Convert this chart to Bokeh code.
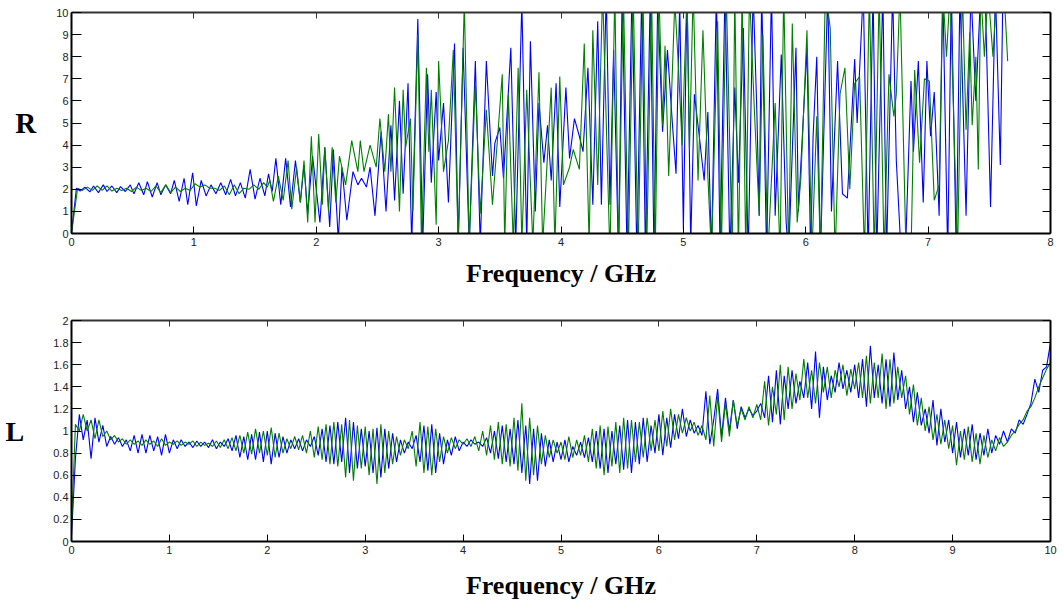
from bokeh.plotting import figure
from bokeh.models import Range1d, LinearAxis, FixedTicker, CustomJSTickFormatter
from bokeh.layouts import column
from bokeh.embed import file_html
from bokeh.resources import INLINE

# ---------------- data: R (top panel) ----------------
freq_r_blue = [
    0.00, 0.04, 0.07, 0.11, 0.15, 0.18, 0.22, 0.26, 0.29, 0.33,
    0.37, 0.40, 0.44, 0.48, 0.51, 0.55, 0.59, 0.62, 0.66, 0.70,
    0.73, 0.77, 0.81, 0.84, 0.88, 0.92, 0.95, 0.99, 1.02, 1.06,
    1.10, 1.14, 1.18, 1.22, 1.26, 1.30, 1.34, 1.38, 1.42, 1.46,
    1.50, 1.54, 1.58, 1.61, 1.64, 1.67, 1.71, 1.75, 1.79, 1.83,
    1.87, 1.90, 1.93, 1.97, 2.03, 2.07, 2.11, 2.14, 2.18, 2.21,
    2.25, 2.30, 2.34, 2.37, 2.41, 2.44, 2.48, 2.53, 2.57, 2.61,
    2.64, 2.68, 2.71, 2.75, 2.78, 2.83, 2.87, 2.91, 2.94, 2.98,
    3.00, 3.04, 3.08, 3.13, 3.16, 3.20, 3.25, 3.30, 3.34, 3.39,
    3.44, 3.46, 3.50, 3.53, 3.59, 3.63, 3.68, 3.72, 3.75, 3.79,
    3.82, 3.86, 3.89, 3.92, 3.96, 3.99, 4.04, 4.07, 4.11, 4.15,
    4.18, 4.22, 4.26, 4.30, 4.33, 4.37, 4.40, 4.43, 4.47, 4.50,
    4.54, 4.58, 4.62, 4.66, 4.69, 4.73, 4.76, 4.79, 4.83, 4.87,
    4.91, 4.94, 4.97, 5.00, 5.03, 5.06, 5.09, 5.13, 5.17, 5.20,
    5.23, 5.27, 5.30, 5.34, 5.38, 5.42, 5.45, 5.49, 5.53, 5.57,
    5.60, 5.62, 5.64, 5.68, 5.72, 5.75, 5.80, 5.84, 5.86, 5.92,
    5.94, 6.01, 6.04, 6.06, 6.09, 6.12, 6.18, 6.21, 6.26, 6.30,
    6.34, 6.40, 6.42, 6.47, 6.51, 6.55, 6.58, 6.63, 6.66, 6.71,
    6.74, 6.78, 6.82, 6.86, 6.88, 6.92, 6.96, 6.99, 7.02, 7.05,
    7.09, 7.12, 7.16, 7.19, 7.23, 7.26, 7.31, 7.35, 7.39, 7.43,
    7.47, 7.51, 7.55, 7.59, 7.61,
]
r_blue = [
    0.00, 2.05, 1.92, 2.10, 1.88, 2.15, 1.85, 2.20, 1.90, 2.15,
    1.85, 2.12, 1.90, 2.20, 1.80, 2.30, 1.75, 2.35, 1.65, 2.30,
    1.75, 2.20, 1.80, 2.40, 1.45, 2.50, 1.30, 2.75, 1.25, 2.40,
    1.70, 2.20, 1.80, 2.30, 1.75, 2.45, 1.70, 2.30, 1.60, 2.90,
    1.55, 2.50, 1.70, 2.70, 1.90, 3.40, 1.30, 3.40, 1.20, 3.30,
    1.40, 3.10, 0.90, 3.50, 0.50, 3.90, 0.30, 3.80, -0.30, 3.00,
    0.60, 2.80, 2.20, 2.50, 2.10, 3.00, 0.80, 4.60, 1.00, 4.90,
    1.50, 6.00, 1.80, 6.80, -0.50, 9.70, -0.50, 7.20, 2.30, 6.40,
    3.30, 5.90, 1.40, 8.60, -0.50, 8.40, -0.50, 7.80, -0.50, 7.80,
    2.60, 4.10, 4.80, 2.50, 8.40, -0.50, 10.5, -0.50, 8.70, 1.00,
    5.90, 3.20, 4.90, 2.40, 6.80, 1.20, 6.60, 3.40, 5.20, 4.40,
    3.70, 7.50, 1.30, 9.60, 1.30, 11.0, 1.30, 8.30, -1.0, 11.0,
    -1.0, 11.0, -1.0, 11.0, -1.0, 11.0, -1.0, 10.5, 4.60, 8.30,
    5.00, 2.70, 10.5, 0.20, 11.0, -0.50, 6.30, 4.40, 2.40, 5.50,
    -1.0, 11.0, -1.0, 11.0, -1.0, 6.60, 2.30, 9.30, -1.0, 11.0,
    5.60, 0.80, 11.0, -1.0, 11.0, 0.80, 8.10, 0.50, -1.0, 8.40,
    1.00, 8.40, -1.0, 4.40, 8.00, -1.0, 11.0, 1.00, 7.80, 1.80,
    1.60, 7.90, 5.00, 11.0, -1.0, 11.0, -1.0, 11.0, -1.0, 11.0,
    3.30, -1.0, 0.00, 6.90, 3.70, 7.80, 1.40, 7.80, 4.40, 6.40,
    0.80, 11.0, -1.0, 11.0, -1.0, 11.0, 0.80, 11.0, 6.00, 11.0,
    10.0, 1.20, 11.0, 3.10, 10.5,
]
freq_r_green = [
    0.00, 0.05, 0.09, 0.13, 0.17, 0.21, 0.25, 0.29, 0.33, 0.37,
    0.41, 0.45, 0.49, 0.53, 0.57, 0.61, 0.65, 0.69, 0.73, 0.77,
    0.81, 0.85, 0.89, 0.93, 0.97, 1.01, 1.05, 1.09, 1.13, 1.17,
    1.21, 1.25, 1.29, 1.33, 1.37, 1.41, 1.45, 1.49, 1.53, 1.57,
    1.60, 1.62, 1.65, 1.69, 1.73, 1.77, 1.80, 1.84, 1.87, 1.90,
    1.93, 1.96, 1.99, 2.02, 2.05, 2.07, 2.10, 2.13, 2.16, 2.19,
    2.24, 2.29, 2.34, 2.36, 2.39, 2.44, 2.49, 2.52, 2.56, 2.59,
    2.61, 2.64, 2.68, 2.71, 2.73, 2.77, 2.79, 2.83, 2.86, 2.90,
    2.92, 2.94, 2.98, 3.00, 3.04, 3.08, 3.12, 3.16, 3.21, 3.25,
    3.30, 3.34, 3.39, 3.44, 3.48, 3.52, 3.54, 3.57, 3.61, 3.65,
    3.68, 3.72, 3.77, 3.82, 3.85, 3.92, 3.95, 3.99, 4.02, 4.07,
    4.10, 4.15, 4.19, 4.23, 4.26, 4.30, 4.34, 4.40, 4.44, 4.47,
    4.51, 4.55, 4.59, 4.63, 4.67, 4.70, 4.74, 4.77, 4.80, 4.83,
    4.85, 4.88, 4.93, 4.96, 4.99, 5.03, 5.05, 5.08, 5.12, 5.16,
    5.20, 5.23, 5.28, 5.31, 5.35, 5.40, 5.42, 5.45, 5.48, 5.51,
    5.54, 5.58, 5.62, 5.65, 5.69, 5.75, 5.79, 5.82, 5.86, 5.89,
    5.93, 5.96, 6.01, 6.05, 6.09, 6.12, 6.16, 6.20, 6.24, 6.28,
    6.32, 6.36, 6.40, 6.44, 6.48, 6.52, 6.56, 6.60, 6.64, 6.68,
    6.72, 6.74, 6.77, 6.82, 6.86, 6.89, 6.93, 6.97, 7.01, 7.05,
    7.09, 7.12, 7.15, 7.18, 7.24, 7.28, 7.31, 7.34, 7.36, 7.39,
    7.41, 7.43, 7.46, 7.49, 7.53, 7.56, 7.62, 7.65,
]
r_green = [
    0.00, 2.05, 1.95, 2.10, 1.95, 2.15, 1.95, 2.15, 1.92, 2.05,
    1.95, 2.05, 1.90, 2.10, 1.95, 2.05, 1.90, 2.15, 1.85, 2.20,
    1.85, 2.10, 1.90, 2.05, 1.95, 2.25, 2.10, 2.20, 2.05, 2.05,
    1.95, 2.15, 1.75, 2.20, 1.80, 2.05, 2.00, 2.20, 2.00, 2.30,
    2.10, 2.40, 1.45, 2.60, 1.50, 3.30, 1.10, 3.00, 1.40, 3.30,
    0.50, 4.40, 0.50, 4.50, 1.30, 3.90, 1.00, 3.90, 1.40, 3.50,
    2.20, 4.20, 2.80, 4.20, 2.80, 4.00, 3.00, 5.20, 2.80, 5.40,
    2.80, 6.60, 1.00, 6.50, 3.90, 5.20, 1.00, 9.00, -0.50, 7.50,
    3.70, 6.50, 0.40, 7.80, 2.80, 4.20, 8.30, -0.50, 10.5, -0.50,
    6.80, 0.90, 5.60, 1.30, 4.20, 7.20, -0.50, 6.30, -0.50, 7.50,
    -0.50, 6.50, -0.50, 7.30, -0.50, 6.60, -0.50, 7.10, 2.20, 3.00,
    3.80, 2.90, 8.60, -0.50, 9.20, 2.20, 11.0, -1.0, 11.0, -1.0,
    11.0, -1.0, 11.0, -1.0, 11.0, -1.0, 11.0, -1.0, 11.0, 4.90,
    8.50, 2.60, 10.5, 7.50, 4.00, 11.0, 3.80, 11.0, 2.40, 9.20,
    2.60, -1.0, 9.60, -1.0, 11.0, -1.0, 11.0, -1.0, 11.0, -1.0,
    11.0, 5.60, 0.80, 9.00, -1.0, 5.90, -1.0, 11.0, -1.0, 9.50,
    0.50, 2.50, 9.20, -1.0, 5.30, -1.0, 11.0, 9.30, -1.0, 6.30,
    7.50, 2.00, 6.80, 7.10, -1.0, 11.0, -1.0, 11.0, -1.0, 7.20,
    5.30, 6.30, 11.0, -1.0, -1.0, 7.40, 3.20, 7.00, 6.90, 1.50,
    2.20, 11.0, 8.00, 11.0, -1.0, 11.0, 4.70, 9.10, 4.90, 8.00,
    2.90, 11.0, 8.00, 11.0, 8.00, 11.0, 11.0, 7.80,
]

# ---------------- data: L (bottom panel), sampled every 0.04 GHz ----------------
l_step_ghz = 0.04
l_blue = [
    0.05, 0.75, 1.15, 0.92, 1.10, 0.75, 1.12, 0.90, 1.05, 0.86, 0.95, 0.88, 0.94, 0.86, 0.92, 0.82, 0.96, 0.80, 0.97, 0.80, 0.96, 0.82, 0.95, 0.78, 0.97,
    0.80, 0.92, 0.84, 0.92, 0.86, 0.90, 0.85, 0.91, 0.86, 0.90, 0.85, 0.92, 0.84, 0.90, 0.86, 0.93, 0.82, 0.96, 0.76, 0.95, 0.74, 0.97, 0.74, 0.99, 0.72,
    1.00, 0.70, 0.98, 0.76, 0.95, 0.80, 0.92, 0.84, 0.93, 0.82, 0.92, 0.86, 0.95, 0.78, 1.02, 0.72, 1.05, 0.70, 1.08, 0.72, 1.12, 0.62, 1.08, 0.66, 1.02,
    0.68, 1.00, 0.62, 1.03, 0.58, 1.02, 0.66, 0.98, 0.72, 0.92, 0.80, 0.90, 0.84, 0.96, 0.72, 1.05, 0.64, 1.06, 0.62, 0.98, 0.70, 0.92, 0.78, 0.95, 0.82,
    0.90, 0.86, 0.92, 0.88, 0.90, 0.86, 0.94, 0.80, 1.00, 0.75, 1.05, 0.72, 1.02, 0.70, 1.10, 0.62, 1.05, 0.52, 1.02, 0.55, 0.98, 0.68, 0.92, 0.72, 0.90,
    0.74, 0.92, 0.72, 0.86, 0.78, 0.90, 0.76, 0.94, 0.72, 1.00, 0.66, 1.02, 0.62, 1.00, 0.70, 1.05, 0.65, 1.10, 0.62, 1.08, 0.70, 1.12, 0.72, 1.05, 0.80,
    1.15, 0.78, 1.12, 0.85, 1.15, 0.93, 1.20, 0.95, 1.10, 0.98, 1.05, 0.96, 1.36, 0.88, 1.10, 1.38, 0.95, 1.30, 1.00, 1.28, 1.02, 1.22, 1.12, 1.20, 1.14,
    1.18, 1.25, 1.12, 1.50, 1.08, 1.55, 1.06, 1.50, 1.20, 1.55, 1.25, 1.45, 1.30, 1.62, 1.20, 1.72, 1.12, 1.58, 1.28, 1.50, 1.35, 1.62, 1.38, 1.55, 1.35,
    1.60, 1.30, 1.65, 1.22, 1.77, 1.30, 1.60, 1.25, 1.65, 1.22, 1.71, 1.28, 1.55, 1.20, 1.40, 1.08, 1.35, 1.05, 1.20, 0.98, 1.28, 0.87, 1.20, 0.90, 1.10,
    0.80, 1.08, 0.76, 1.02, 0.78, 1.06, 0.74, 0.98, 0.78, 1.02, 0.80, 0.96, 0.88, 1.00, 0.90, 1.02, 0.98, 1.10, 1.06, 1.15, 1.25, 1.47, 1.35, 1.55, 1.58,
    1.80,
]
l_green = [
    0.10, 1.06, 1.00, 1.15, 1.00, 1.10, 0.93, 1.10, 0.95, 1.00, 0.92, 0.96, 0.90, 0.93, 0.88, 0.92, 0.88, 0.91, 0.87, 0.92, 0.88, 0.91, 0.86, 0.93, 0.87,
    0.90, 0.88, 0.91, 0.87, 0.90, 0.88, 0.91, 0.86, 0.90, 0.87, 0.89, 0.86, 0.91, 0.85, 0.92, 0.84, 0.94, 0.82, 0.96, 0.80, 0.99, 0.79, 1.02, 0.80, 1.00,
    0.78, 1.03, 0.76, 0.98, 0.80, 0.93, 0.84, 0.95, 0.83, 0.96, 0.80, 1.00, 0.76, 1.04, 0.74, 1.06, 0.70, 1.08, 0.68, 1.06, 0.58, 1.10, 0.55, 1.05, 0.66,
    1.04, 0.60, 1.02, 0.52, 1.06, 0.62, 1.00, 0.70, 0.95, 0.78, 0.92, 0.84, 1.00, 0.68, 1.08, 0.62, 1.04, 0.60, 1.02, 0.72, 0.95, 0.80, 0.94, 0.84, 0.92,
    0.88, 0.93, 0.86, 0.95, 0.82, 1.00, 0.78, 1.05, 0.74, 1.08, 0.70, 1.06, 0.68, 1.12, 0.64, 1.25, 0.55, 1.12, 0.60, 1.05, 0.70, 0.96, 0.76, 0.92, 0.80,
    0.90, 0.74, 0.95, 0.76, 0.92, 0.78, 0.96, 0.72, 1.02, 0.66, 1.05, 0.60, 1.04, 0.68, 1.08, 0.62, 1.12, 0.66, 1.10, 0.72, 1.08, 0.76, 1.12, 0.82, 1.10,
    0.82, 1.18, 0.86, 1.20, 0.92, 1.15, 0.98, 1.12, 1.00, 1.08, 0.96, 1.05, 0.92, 1.32, 0.86, 1.32, 0.90, 1.25, 0.95, 1.28, 1.05, 1.20, 1.10, 1.22, 1.12,
    1.24, 1.10, 1.45, 1.05, 1.40, 1.15, 1.60, 1.10, 1.58, 1.20, 1.52, 1.28, 1.65, 1.30, 1.55, 1.25, 1.62, 1.35, 1.58, 1.30, 1.55, 1.40, 1.60, 1.32, 1.56,
    1.38, 1.62, 1.30, 1.68, 1.25, 1.62, 1.30, 1.70, 1.20, 1.65, 1.25, 1.58, 1.30, 1.50, 1.15, 1.42, 1.05, 1.30, 1.00, 1.22, 0.92, 1.15, 0.88, 1.10, 0.84,
    1.05, 0.69, 1.00, 0.74, 1.04, 0.72, 0.98, 0.70, 0.96, 0.76, 0.92, 0.82, 0.94, 0.86, 0.90, 0.96, 1.00, 1.06, 1.10, 1.18, 1.22, 1.30, 1.40, 1.48, 1.56,
    1.62,
]
freq_l_blue = [round(i * l_step_ghz, 2) for i in range(len(l_blue))]
freq_l_green = [round(i * l_step_ghz, 2) for i in range(len(l_green))]

r_xticks = [0, 1, 2, 3, 4, 5, 6, 7, 8]
r_yticks = [0, 1, 2, 3, 4, 5, 6, 7, 8, 9, 10]
l_xticks = [0, 1, 2, 3, 4, 5, 6, 7, 8, 9, 10]
l_yticks = [0, 0.2, 0.4, 0.6, 0.8, 1, 1.2, 1.4, 1.6, 1.8, 2]

BLUE = "#0000ff"
GREEN = "#008000"
TICK_FONT = "Liberation Sans"
LABEL_FONT = "Liberation Serif"


def style(p, xticks, yticks, ylabel, ylabel_size, ylabel_standoff, xlabel_standoff):
    p.xgrid.grid_line_color = None
    p.ygrid.grid_line_color = None
    p.outline_line_color = None
    p.background_fill_color = "white"
    p.border_fill_color = "white"
    for ax in p.xaxis:
        ax.ticker = FixedTicker(ticks=xticks)
        ax.major_tick_in = 7
        ax.major_tick_out = 0
        ax.major_label_standoff = 4
        ax.axis_label = "Frequency / GHz"
        ax.axis_label_standoff = xlabel_standoff
    for ax in p.yaxis:
        ax.ticker = FixedTicker(ticks=yticks)
        ax.major_tick_in = 10
        ax.major_tick_out = 0
        ax.major_label_standoff = 3
        ax.formatter = CustomJSTickFormatter(code="return String(Math.round(tick*10)/10);")
        ax.axis_label = ylabel
        ax.axis_label_standoff = ylabel_standoff
        try:
            ax.axis_label_orientation = "horizontal"
        except Exception:
            pass
        ax.axis_label_text_baseline = "bottom"
    for ax in list(p.xaxis) + list(p.yaxis):
        ax.minor_tick_line_color = None
        ax.axis_line_width = 2
        ax.axis_line_color = "black"
        ax.major_tick_line_color = "black"
        ax.major_tick_line_width = 1
        ax.major_label_text_font = TICK_FONT
        ax.major_label_text_font_size = "11px"
        ax.major_label_text_color = "#222222"
        ax.axis_label_text_font = LABEL_FONT
        ax.axis_label_text_font_style = "bold"
        ax.axis_label_text_color = "black"
    p.xaxis.axis_label_text_font_size = "26px"
    p.yaxis.axis_label_text_font_size = ylabel_size
    top = LinearAxis(ticker=FixedTicker(ticks=xticks), major_tick_in=6, major_tick_out=0,
                     minor_tick_line_color=None, major_label_text_font_size="1px",
                     major_label_text_color=None, major_label_standoff=0,
                     axis_line_width=2, axis_line_color="#333333",
                     major_tick_line_color="#333333")
    right = LinearAxis(ticker=FixedTicker(ticks=yticks), major_tick_in=8, major_tick_out=0,
                       minor_tick_line_color=None, major_label_text_font_size="1px",
                       major_label_text_color=None, major_label_standoff=0,
                       axis_line_width=2, axis_line_color="black",
                       major_tick_line_color="black")
    p.add_layout(top, "above")
    p.add_layout(right, "right")


# ---------------- top figure ----------------
p1 = figure(width=1060, height=300, output_backend="svg", toolbar_location=None,
            x_range=Range1d(0, 8), y_range=Range1d(0, 10),
            min_border_left=71, min_border_right=10, min_border_top=12, min_border_bottom=67)
p1.line(freq_r_blue, r_blue, line_color=BLUE, line_width=1.1)
p1.line(freq_r_green, r_green, line_color=GREEN, line_width=1.1)
style(p1, r_xticks, r_yticks, "R", "29px", 17, 10)

# ---------------- bottom figure ----------------
p2 = figure(width=1060, height=304, output_backend="svg", toolbar_location=None,
            x_range=Range1d(0, 10), y_range=Range1d(0, 2),
            min_border_left=71, min_border_right=10, min_border_top=20, min_border_bottom=63)
p2.line(freq_l_blue, l_blue, line_color=BLUE, line_width=1.1)
p2.line(freq_l_green, l_green, line_color=GREEN, line_width=1.1)
style(p2, l_xticks, l_yticks, "L", "28px", 26, 14)

layout = column(p1, p2, spacing=0)
open("out.html", "w").write(file_html(layout, INLINE))
